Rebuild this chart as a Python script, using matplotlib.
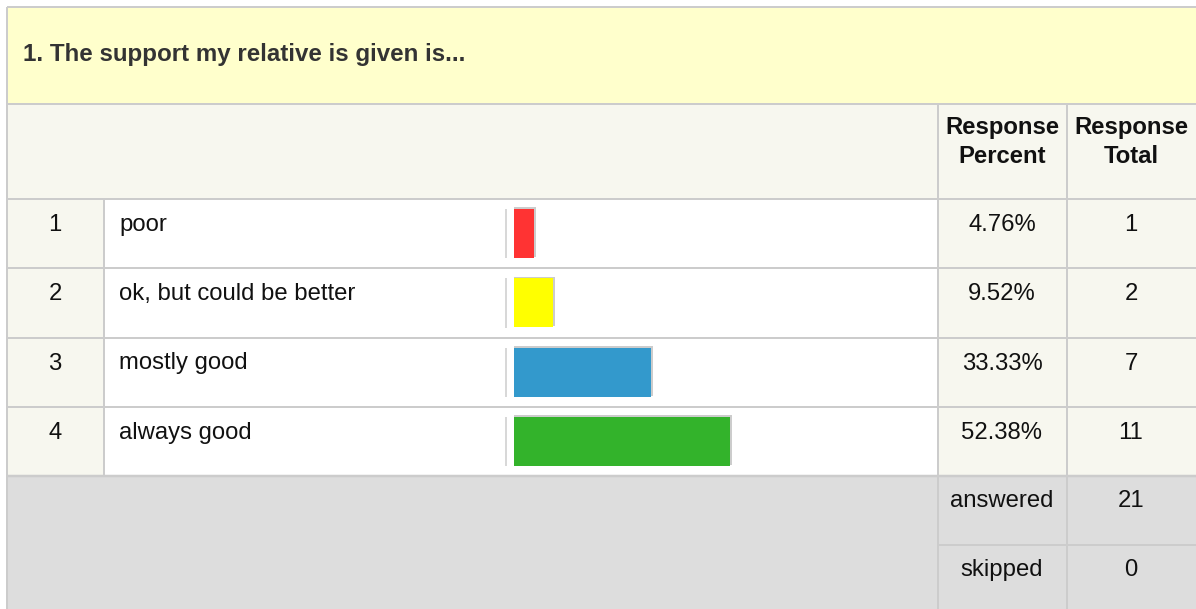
import matplotlib.pyplot as plt
from matplotlib.patches import Rectangle

# data
title = "1. The support my relative is given is..."
numbers = ["1", "2", "3", "4"]
answers = ["poor", "ok, but could be better", "mostly good", "always good"]
percents = [4.76, 9.52, 33.33, 52.38]
totals = [1, 2, 7, 11]
bar_colors = ["#ff3333", "#ffff00", "#3399cc", "#33b32b"]
answered = 21
skipped = 0

plt.rcParams['font.family'] = ['Liberation Sans', 'DejaVu Sans']

W, H = 1196, 609
fig = plt.figure(figsize=(W / 100, H / 100), dpi=100)
ax = fig.add_axes([0, 0, 1, 1])
ax.set_xlim(0, W)
ax.set_ylim(H, 0)
ax.axis('off')

line_c = "#cccccc"
light = "#f7f7ef"
fs = 17.2

# column edges and row edges (pixels)
cols = [7, 104, 506, 938, 1067, 1196]
row_top = 199
row_h = 69.25
foot_top = 476


def box(x0, y0, x1, y1, color):
    ax.add_patch(Rectangle((x0, y0), x1 - x0, y1 - y0, facecolor=color,
                           edgecolor='none', zorder=0))


def hline(y, x0, x1, lw=2):
    ax.plot([x0, x1], [y, y], color=line_c, lw=lw * 0.72, zorder=1,
            solid_capstyle='butt')


def vline(x, y0, y1, lw=2):
    ax.plot([x, x], [y0, y1], color=line_c, lw=lw * 0.72, zorder=1,
            solid_capstyle='butt')


# title band
box(7, 7, W, 104, "#ffffcc")
ax.text(23, 54, title, fontsize=17.4, fontweight='bold', color="#333333",
        va='center', ha='left')

# header band
box(7, 104, W, row_top, light)
ax.text(1002, 142, "Response\nPercent", fontsize=fs, fontweight='bold',
        ha='center', va='center', linespacing=1.35, color="#111111")
ax.text(1131, 142, "Response\nTotal", fontsize=fs, fontweight='bold',
        ha='center', va='center', linespacing=1.35, color="#111111")

# rows
for i in range(len(answers)):
    y0 = row_top + i * row_h
    y1 = y0 + row_h
    box(cols[0], y0, cols[1], y1, light)
    box(cols[1], y0, cols[3], y1, "white")
    box(cols[3], y0, W, y1, light)
    yt = y0 + 26
    ax.text(55, yt, numbers[i], fontsize=fs, ha='center', va='center', color="#111111")
    ax.text(119, yt, answers[i], fontsize=fs, ha='left', va='center', color="#111111")
    ax.text(1002, yt, f"{percents[i]:.2f}%", fontsize=fs, ha='center', va='center', color="#111111")
    ax.text(1131, yt, str(totals[i]), fontsize=fs, ha='center', va='center', color="#111111")
    vline(506, y0 + 10, y1 - 10, lw=1.5)

# footer
box(7, foot_top, W, H, "#dddddd")
ax.text(1002, 501, "answered", fontsize=fs, ha='center', va='center', color="#111111")
ax.text(1131, 501, str(answered), fontsize=fs, ha='center', va='center', color="#111111")
ax.text(1002, 570, "skipped", fontsize=fs, ha='center', va='center', color="#111111")
ax.text(1131, 570, str(skipped), fontsize=fs, ha='center', va='center', color="#111111")

# grid lines
hline(7, 7, W)
vline(7, 7, H)
hline(104, 7, W)
hline(row_top, 7, W)
for i in range(1, len(answers)):
    hline(row_top + i * row_h, 7, W)
hline(foot_top, 7, W, lw=2.5)
hline(545, 938, W)
vline(104, row_top, foot_top)
vline(938, 104, H)
vline(1067, 104, H)

# bar axes: 100% spans 412 px starting at x=514
bax = fig.add_axes([514 / W, 1 - foot_top / H, 412 / W, (foot_top - row_top) / H])
bax.set_xlim(0, 100)
bax.set_ylim(len(answers) - 0.5, -0.5)
bax.axis('off')
pos = list(range(len(answers)))
bax.barh([p - 0.02 for p in pos], [p + 0.5 for p in percents], height=0.72,
         color=line_c, zorder=1)
bax.barh(pos, percents, height=0.71, color=bar_colors, zorder=2)

fig.savefig("out.png", dpi=100)
